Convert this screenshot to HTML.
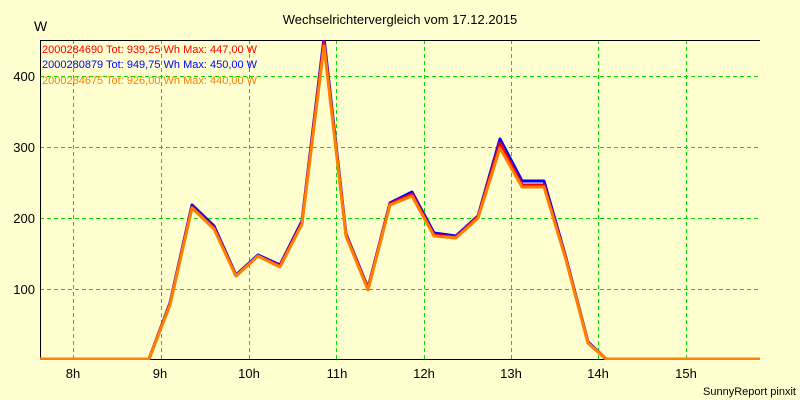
<!DOCTYPE html>
<html><head><meta charset="utf-8"><style>
body{margin:0;background:#ffffd0;}
svg{display:block;font-family:"Liberation Sans",sans-serif;}
</style></head><body>
<svg width="800" height="400" viewBox="0 0 800 400">
<defs><clipPath id="c"><rect x="40" y="40" width="720" height="320"/></clipPath></defs>
<rect width="800" height="400" fill="#ffffd0"/>
<text x="400" y="24" font-size="13" text-anchor="middle" fill="#000">Wechselrichtervergleich vom 17.12.2015</text>
<text x="34" y="31" font-size="14" fill="#000">W</text>
<g stroke="#00e000" stroke-width="1" stroke-dasharray="4,3">
<line x1="40" y1="289.5" x2="760" y2="289.5"/><line x1="40" y1="218.5" x2="760" y2="218.5"/><line x1="40" y1="147.5" x2="760" y2="147.5"/><line x1="40" y1="76.5" x2="760" y2="76.5"/>
<line x1="73.5" y1="40" x2="73.5" y2="359"/><line x1="161.5" y1="40" x2="161.5" y2="359"/><line x1="249.5" y1="40" x2="249.5" y2="359"/><line x1="336.5" y1="40" x2="336.5" y2="359"/><line x1="424.5" y1="40" x2="424.5" y2="359"/><line x1="511.5" y1="40" x2="511.5" y2="359"/><line x1="598.5" y1="40" x2="598.5" y2="359"/><line x1="686.5" y1="40" x2="686.5" y2="359"/>
</g>
<line x1="40.5" y1="40" x2="40.5" y2="359" stroke="#000"/>
<line x1="40" y1="40.5" x2="760" y2="40.5" stroke="#000"/>
<line x1="40" y1="359.5" x2="760" y2="359.5" stroke="#000"/>
<g font-size="13" fill="#000" text-anchor="end">
<text x="35" y="294">100</text><text x="35" y="223">200</text><text x="35" y="152">300</text><text x="35" y="81">400</text>
</g>
<g font-size="13" fill="#000" text-anchor="middle">
<text x="73" y="378">8h</text><text x="160" y="378">9h</text><text x="249" y="378">10h</text><text x="337" y="378">11h</text><text x="424" y="378">12h</text><text x="511" y="378">13h</text><text x="598" y="378">14h</text><text x="686" y="378">15h</text>
</g>
<text x="796" y="395" font-size="11" text-anchor="end" fill="#000">SunnyReport pinxit</text>
<g fill="none" stroke-width="3" stroke-linejoin="round" clip-path="url(#c)">
<polyline stroke="#0000ff" points="40,359 149,359 170,303 192,205 214,226 236,275 258,255 280,265 302,221 324,38 346,234 368,288 390,203 412,192 434,233 456,236 478,216 500,139 522,181 544,181 566,258 588,342 606,359 760,359"/>
<polyline stroke="#ff0000" points="40,359 149,359 170,304 192,207 214,228 236,276 258,256 280,266 302,223 324,42 346,235 368,289 390,204 412,194 434,235 456,237 478,217 500,143 522,185 544,185 566,259 588,343 606,359 760,359"/>
<polyline stroke="#ff8000" points="40,359 149,359 170,305 192,208 214,229 236,276 258,256 280,267 302,224 324,46 346,236 368,290 390,205 412,196 434,236 456,238 478,218 500,148 522,187 544,187 566,260 588,343 606,359 760,359"/>
</g>
<g font-size="11">
<text x="42" y="53" fill="#ff0000">2000284690 Tot: 939,25 Wh Max: 447,00 W</text>
<text x="42" y="68" fill="#0000ff">2000280879 Tot: 949,75 Wh Max: 450,00 W</text>
<text x="42" y="84" fill="#ff8000">2000284675 Tot: 926,00 Wh Max: 440,00 W</text>
</g>
</svg>
</body></html>
